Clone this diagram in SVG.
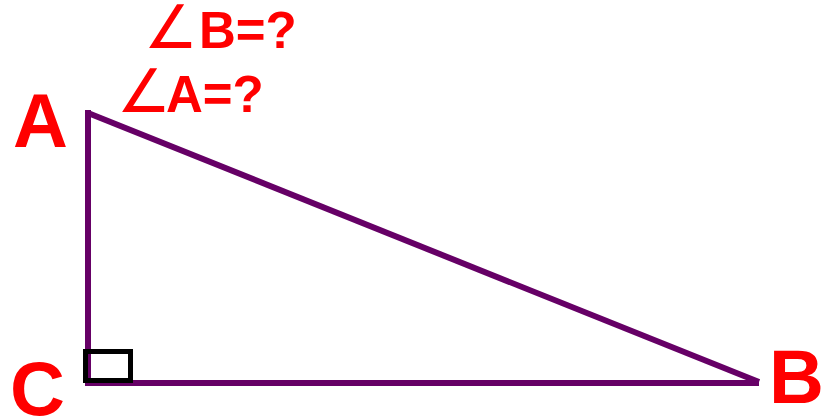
<svg xmlns="http://www.w3.org/2000/svg" width="830" height="417" viewBox="0 0 830 417">
<style>
.lbl{font-family:"Liberation Sans",Arial,sans-serif;font-weight:bold;fill:#ff0000}
.big{font-size:76px}
.q{font-size:51px}
.ang{font-family:"DejaVu Sans",sans-serif;font-weight:normal;font-size:60px}
.side{stroke:#660066;stroke-width:6;fill:none;stroke-linecap:butt}
</style>
<rect width="830" height="417" fill="#ffffff"/>
<g id="connectors">
<line class="side" x1="88" y1="110" x2="88" y2="386"/>
<line class="side" x1="88" y1="383" x2="759" y2="383"/>
<line class="side" x1="88" y1="113" x2="759" y2="382"/>
</g>
<g id="right-angle">
<rect x="85.5" y="351.5" width="45" height="29" fill="none" stroke="#000000" stroke-width="5"/>
</g>
<g id="node-A"><text class="lbl big" x="13" y="147">A</text></g>
<g id="node-C"><text class="lbl big" x="10" y="415">C</text></g>
<g id="node-B"><text class="lbl big" x="769" y="403">B</text></g>
<g id="q-B"><text class="lbl q" x="144" y="48"><tspan class="ang">∠</tspan><tspan x="199">B=?</tspan></text></g>
<g id="q-A"><text class="lbl q" x="117" y="112"><tspan class="ang">∠</tspan><tspan x="166">A=?</tspan></text></g>
</svg>
